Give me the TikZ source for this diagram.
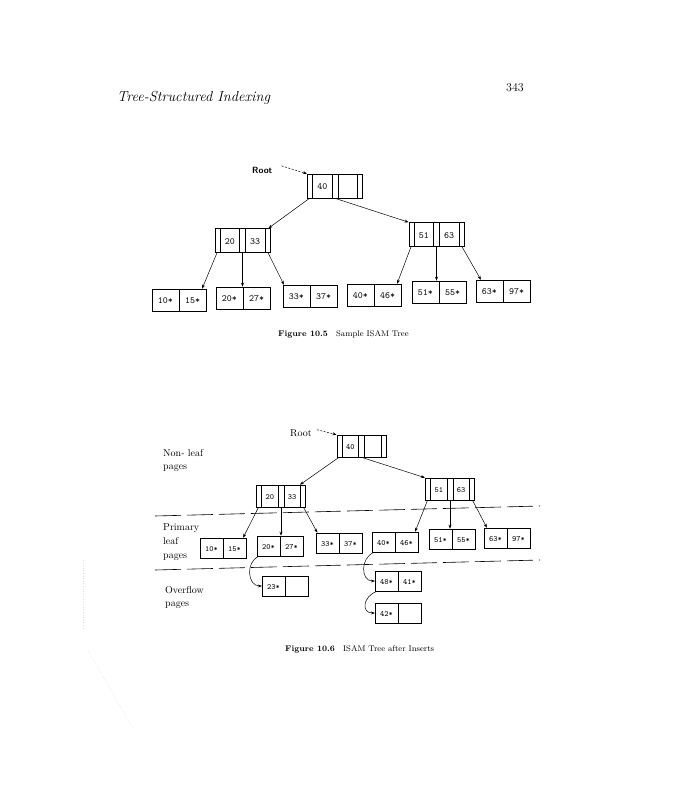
\documentclass[tikz,border=0pt]{standalone}
\usepackage{fontspec}
\usetikzlibrary{shapes.multipart,arrows.meta,calc}
% cell macros
\newcommand{\ptA}{\makebox[5pt]{\rule[-8.5pt]{0pt}{24pt}}}
\newcommand{\kyA}[1]{\makebox[19pt]{\rule[-8.5pt]{0pt}{24pt}#1}}
\newcommand{\lcA}[1]{\makebox[26.5pt]{\rule[-8pt]{0pt}{22pt}#1}}
\newcommand{\ptB}{\makebox[5pt]{\rule[-7.5pt]{0pt}{22pt}}}
\newcommand{\kyB}[1]{\makebox[16pt]{\rule[-7.5pt]{0pt}{22pt}#1}}
\newcommand{\lcB}[1]{\makebox[22.5pt]{\rule[-7pt]{0pt}{20pt}#1}}
\begin{document}
\begin{tikzpicture}[x=1pt,y=-1pt,
  idxA/.style={draw,line width=0.6pt,rectangle split,rectangle split horizontal,rectangle split parts=5,inner sep=0pt,font=\fontsize{9.5}{11}\selectfont\ttfamily},
  leafA/.style={draw,line width=0.6pt,rectangle split,rectangle split horizontal,rectangle split parts=2,inner sep=0pt,font=\fontsize{9.5}{11}\selectfont\ttfamily},
  idxB/.style={draw,line width=0.6pt,rectangle split,rectangle split horizontal,rectangle split parts=5,inner sep=0pt,font=\fontsize{8}{9}\selectfont\ttfamily},
  leafB/.style={draw,line width=0.6pt,rectangle split,rectangle split horizontal,rectangle split parts=2,inner sep=0pt,font=\fontsize{8}{9}\selectfont\ttfamily},
  arr/.style={-{Stealth[length=4pt,width=3pt]},line width=0.5pt},
  rootarr/.style={arr,dash pattern=on 2pt off 1.5pt},
  sep/.style={line width=0.6pt,dash pattern=on 26pt off 6pt},
  lbl/.style={anchor=base west,inner sep=0pt,font=\fontsize{10}{12}\selectfont},
  faint/.style={gray!25,dotted,line width=0.6pt}
]
\useasboundingbox (0,0) rectangle (680,800);
\fill[white] (0,0) rectangle (680,800);

% page header
\node[anchor=base west,inner sep=0pt,font=\fontsize{14.5}{16}\selectfont\itshape] (hdr) at (117,101) {Tree-Structured Indexing};
\node[anchor=base west,inner sep=0pt,font=\fontsize{12}{14}\selectfont] (pg) at (506,92) {343};

% ---------------- Figure 10.5 ----------------
\node[anchor=base west,inner sep=0pt,font=\fontsize{9}{11}\selectfont\sffamily\bfseries] (rl1) at (252,173) {Root};
\node[idxA] (r1) at (335,186) {\ptA\nodepart{two}\kyA{40}\nodepart{three}\ptA\nodepart{four}\kyA{}\nodepart{five}\ptA};
\node[idxA] (b1) at (242.5,240.5) {\ptA\nodepart{two}\kyA{20}\nodepart{three}\ptA\nodepart{four}\kyA{33}\nodepart{five}\ptA};
\node[idxA] (c1) at (436.5,234.5) {\ptA\nodepart{two}\kyA{51}\nodepart{three}\ptA\nodepart{four}\kyA{63}\nodepart{five}\ptA};

\node[leafA] (a1) at (179,300) {\lcA{10*}\nodepart{two}\lcA{15*}};
\node[leafA] (a2) at (243,298) {\lcA{20*}\nodepart{two}\lcA{27*}};
\node[leafA] (a3) at (310,296) {\lcA{33*}\nodepart{two}\lcA{37*}};
\node[leafA] (a4) at (374,295) {\lcA{40*}\nodepart{two}\lcA{46*}};
\node[leafA] (a5) at (439,292) {\lcA{51*}\nodepart{two}\lcA{55*}};
\node[leafA] (a6) at (503,291) {\lcA{63*}\nodepart{two}\lcA{97*}};

\draw[rootarr] ($(rl1.east)+(9,-4)$) -- (r1.north west);
\draw[arr] ($(r1.south west)+(2.5,0)$) -- ($(b1.north east)+(-2,0)$);
\draw[arr] (r1.south) -- (c1.north west);
\draw[arr] ($(b1.south west)+(2.5,0)$) -- ($(a1.north east)+(-4,0)$);
\draw[arr] (b1.south) -- (b1.south |- a2.north);
\draw[arr] ($(b1.south east)+(-2.5,0)$) -- ($(a3.north west)+(1,0)$);
\draw[arr] ($(c1.south west)+(2.5,0)$) -- ($(a4.north east)+(-4,0)$);
\draw[arr] (c1.south) -- (c1.south |- a5.north);
\draw[arr] ($(c1.south east)+(-2.5,0)$) -- ($(a6.north west)+(5,0)$);

\node[anchor=base west,inner sep=0pt,font=\fontsize{8.2}{10}\selectfont] (cap1) at (278,336) {\textbf{Figure 10.5}\quad Sample ISAM Tree};

% ---------------- Figure 10.6 ----------------
\node[lbl] (rl2) at (290,436) {Root};
\node[idxB] (r2) at (361.5,446) {\ptB\nodepart{two}\kyB{40}\nodepart{three}\ptB\nodepart{four}\kyB{}\nodepart{five}\ptB};
\node[idxB] (b2) at (281,496) {\ptB\nodepart{two}\kyB{20}\nodepart{three}\ptB\nodepart{four}\kyB{33}\nodepart{five}\ptB};
\node[idxB] (c2) at (450,489) {\ptB\nodepart{two}\kyB{51}\nodepart{three}\ptB\nodepart{four}\kyB{63}\nodepart{five}\ptB};

\node[leafB] (m1) at (223,548) {\lcB{10*}\nodepart{two}\lcB{15*}};
\node[leafB] (m2) at (280,546) {\lcB{20*}\nodepart{two}\lcB{27*}};
\node[leafB] (m3) at (339,543) {\lcB{33*}\nodepart{two}\lcB{37*}};
\node[leafB] (m4) at (395,542) {\lcB{40*}\nodepart{two}\lcB{46*}};
\node[leafB] (m5) at (452,539) {\lcB{51*}\nodepart{two}\lcB{55*}};
\node[leafB] (m6) at (507,538) {\lcB{63*}\nodepart{two}\lcB{97*}};

\node[leafB] (o1) at (285,586) {\lcB{23*}\nodepart{two}\lcB{}};
\node[leafB] (o2) at (398,581) {\lcB{48*}\nodepart{two}\lcB{41*}};
\node[leafB] (o3) at (398,613) {\lcB{42*}\nodepart{two}\lcB{}};

% level separators
\draw[sep] (155,516) -- (540,506);
\draw[sep] (155,570) -- (540,560);

% level labels
\node[lbl] (nl1) at (163,456) {Non- leaf};
\node[lbl] (nl2) at (163,469) {pages};
\node[lbl] (pl1) at (163,530) {Primary};
\node[lbl] (pl2) at (163,544) {leaf};
\node[lbl] (pl3) at (163,558) {pages};
\node[lbl] (ol1) at (165,593) {Overflow};
\node[lbl] (ol2) at (165,606) {pages};

\draw[rootarr] ($(rl2.east)+(5,-3)$) -- (r2.north west);
\draw[arr] ($(r2.south west)+(2.5,0)$) -- ($(b2.north east)+(-6,0)$);
\draw[arr] (r2.south) -- (c2.north west);
\draw[arr] ($(b2.south west)+(2.5,0)$) -- ($(m1.north east)+(-3,0)$);
\draw[arr] (b2.south) -- (b2.south |- m2.north);
\draw[arr] ($(b2.south east)+(-2.5,0)$) -- ($(m3.north west)+(1.5,0)$);
\draw[arr] ($(c2.south west)+(2.5,0)$) -- ($(m4.north east)+(-3,0)$);
\draw[arr] (c2.south) -- (c2.south |- m5.north);
\draw[arr] ($(c2.south east)+(-2.5,0)$) -- ($(m6.north west)+(3,0)$);

% overflow chains
\draw[arr] ($(m2.south west)+(2,0)$) .. controls +(-14,6) and +(-14,0) .. (o1.west);
\draw[arr] ($(m4.south west)+(2,0)$) .. controls +(-14,6) and +(-14,0) .. (o2.west);
\draw[arr] ($(o2.south west)+(2,0)$) .. controls +(-14,5) and +(-14,0) .. (o3.west);

\node[anchor=base west,inner sep=0pt,font=\fontsize{8.2}{10}\selectfont] (cap2) at (285,651) {\textbf{Figure 10.6}\quad ISAM Tree after Inserts};

% faint scan marks
\draw[faint] (83,560) -- (83,630);
\draw[faint] (88,650) -- (132,727);
\end{tikzpicture}
\end{document}
